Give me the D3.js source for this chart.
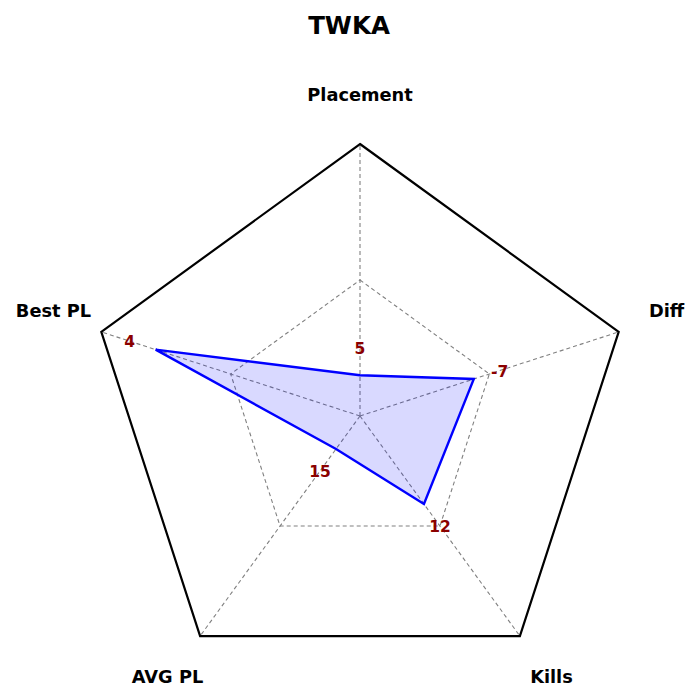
<!DOCTYPE html>
<html>
<head>
<meta charset="utf-8">
<script src="https://cdn.jsdelivr.net/npm/d3@7"></script>
<style>
html,body{margin:0;padding:0;background:#fff;}
svg{display:block;}
text{font-family:"DejaVu Sans",sans-serif;font-weight:bold;}
</style>
</head>
<body>
<svg id="chart" width="700" height="700"></svg>
<script>
const title = "TWKA";
const categories = ["Placement", "Diff", "Kills", "AVG PL", "Best PL"];
const rawValues = [5, -7, 12, 15, 4];
const normValues = [0.15, 0.44, 0.40, 0.15, 0.79];
const gridLevels = [0.5];

const W = 700, H = 700;
const cx = 360, cy = 416, R = 272;
const svg = d3.select("#chart");

const rScale = d3.scaleLinear().domain([0, 1]).range([0, R]);
const aScale = d3.scaleLinear().domain([0, categories.length]).range([-Math.PI / 2, 1.5 * Math.PI]);
const pt = (i, v) => [cx + rScale(v) * Math.cos(aScale(i)), cy + rScale(v) * Math.sin(aScale(i))];

const g = svg.append("g");
const closedLine = d3.line().curve(d3.curveLinearClosed);

// grid levels
gridLevels.forEach(l => {
  g.append("path")
    .attr("d", closedLine(categories.map((c, i) => pt(i, l))))
    .attr("fill", "none").attr("stroke", "#808080").attr("stroke-width", 1.1)
    .attr("stroke-dasharray", "4,3");
});
// spokes
categories.forEach((c, i) => {
  const [x, y] = pt(i, 1);
  g.append("line").attr("x1", cx).attr("y1", cy).attr("x2", x).attr("y2", y)
    .attr("stroke", "#808080").attr("stroke-width", 1.1).attr("stroke-dasharray", "4,3");
});
// outer frame
g.append("path")
  .attr("d", closedLine(categories.map((c, i) => pt(i, 1))))
  .attr("fill", "none").attr("stroke", "#000").attr("stroke-width", 2.2)
  .attr("stroke-linejoin", "miter");

// data polygon
g.append("path")
  .attr("d", closedLine(normValues.map((v, i) => pt(i, v))))
  .attr("fill", "rgba(0,0,255,0.15)").attr("stroke", "#0000ff").attr("stroke-width", 2.4)
  .attr("stroke-linejoin", "miter");

// value labels
rawValues.forEach((v, i) => {
  const [x, y] = pt(i, normValues[i] + 0.1);
  g.append("text").attr("x", x).attr("y", y + 1).attr("text-anchor", "middle")
    .attr("dominant-baseline", "central").attr("font-size", 15.5).attr("fill", "#8b0000").text(v);
});

// axis labels
categories.forEach((c, i) => {
  const a = aScale(i);
  const [x, y] = pt(i, 1.185);
  const sx = Math.sin(a) > 0.5 ? (Math.cos(a) > 0 ? 2 : -3) : 0;
  const dy = Math.abs(Math.sin(a)) < 0.5 ? -6 : (Math.sin(a) < 0 ? 1 : 0);
  g.append("text").attr("x", x + sx).attr("y", y + dy).attr("text-anchor", "middle")
    .attr("dominant-baseline", "central").attr("font-size", 17.8).attr("fill", "#000").text(c);
});

// title
svg.append("text").attr("x", 349).attr("y", 25).attr("text-anchor", "middle")
  .attr("dominant-baseline", "central").attr("font-size", 24.5).attr("fill", "#000").text(title);
</script>
</body>
</html>
